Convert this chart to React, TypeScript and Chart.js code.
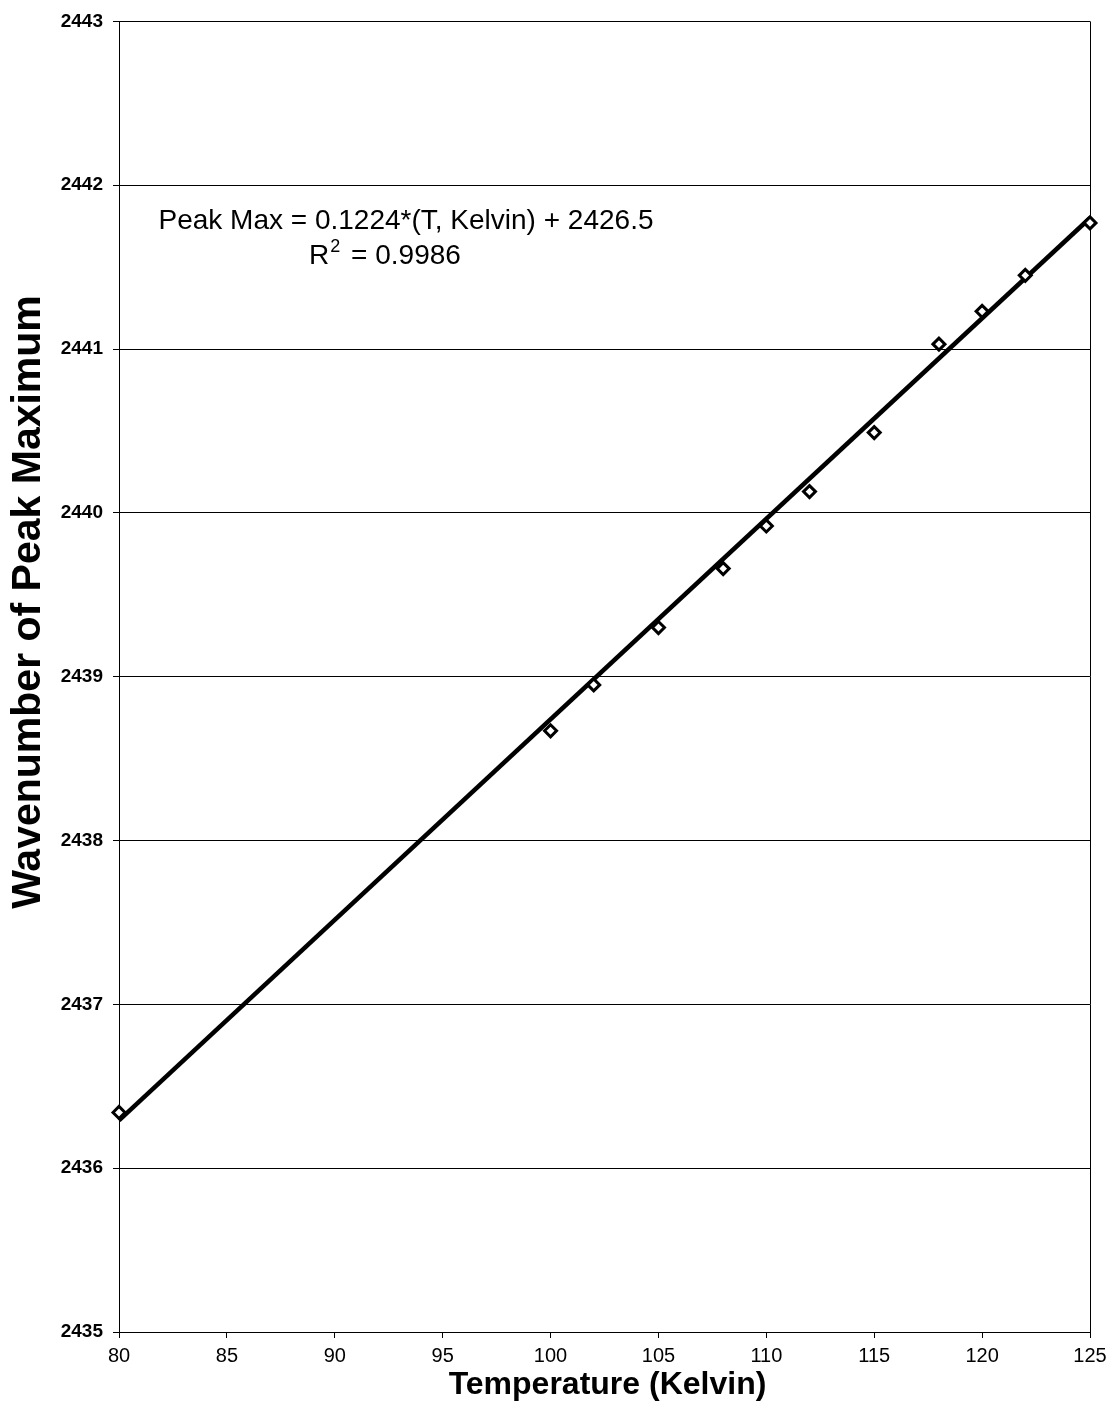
import React, { useEffect, useRef } from "react";
import { Chart, registerables } from "chart.js";

Chart.register(...registerables);

// Measured peak positions
const temperatures = [80, 100, 102, 105, 108, 110, 112, 115, 118, 120, 122, 125];
const peakMax = [2436.34, 2438.67, 2438.95, 2439.3, 2439.66, 2439.92, 2440.13, 2440.49, 2441.03, 2441.23, 2441.45, 2441.77];

// Linear fit: Peak Max = slope * T + intercept
const fitSlope = 0.1224;
const fitIntercept = 2426.5;
const fitRange = [80, 125];
const equationText = "Peak Max = 0.1224*(T, Kelvin) + 2426.5";
const rSquaredText = " = 0.9986";

const xTicks = [80, 85, 90, 95, 100, 105, 110, 115, 120, 125];
const yMin = 2435;
const yMax = 2443;
const xTitle = "Temperature (Kelvin)";
const yTitle = "Wavenumber of Peak Maximum";

const FONT = "Arial, 'Liberation Sans', sans-serif";

// Fit equation, R² and axis titles drawn on top of the chart
const annotationPlugin = {
  id: "annotationText",
  afterDraw(chart: any) {
    const { ctx, chartArea } = chart;
    ctx.save();
    ctx.fillStyle = "#000";

    // equation line
    ctx.textAlign = "center";
    ctx.textBaseline = "alphabetic";
    ctx.font = `28px ${FONT}`;
    ctx.fillText(equationText, chartArea.left + 287, chartArea.top + 208);

    // R² line with superscript
    const wR = ctx.measureText("R").width;
    const wRest = ctx.measureText(rSquaredText).width;
    ctx.font = `18px ${FONT}`;
    const wSup = ctx.measureText("2").width;
    const total = wR + wSup + wRest + 4;
    let x = chartArea.left + 266 - total / 2;
    const y = chartArea.top + 243;
    ctx.textAlign = "left";
    ctx.font = `28px ${FONT}`;
    ctx.fillText("R", x, y);
    x += wR + 1;
    ctx.font = `18px ${FONT}`;
    ctx.fillText("2", x, y - 12);
    x += wSup + 3;
    ctx.font = `28px ${FONT}`;
    ctx.fillText(rSquaredText, x, y);

    // x-axis title
    ctx.textAlign = "center";
    ctx.font = `bold 32px ${FONT}`;
    ctx.fillText(xTitle, (chartArea.left + chartArea.right) / 2 + 3, 1394);

    // y-axis title
    ctx.translate(40, 602);
    ctx.rotate(-Math.PI / 2);
    ctx.font = `bold 41px ${FONT}`;
    ctx.fillText(yTitle, 0, 0);
    ctx.restore();
  },
};

export default function App() {
  const canvasRef = useRef<HTMLCanvasElement | null>(null);

  useEffect(() => {
    if (!canvasRef.current) return;
    const points = temperatures.map((t, i) => ({ x: t, y: peakMax[i] }));
    const fit = fitRange.map((t) => ({ x: t, y: fitSlope * t + fitIntercept }));

    const chart = new Chart(canvasRef.current, {
      type: "scatter",
      data: {
        datasets: [
          {
            label: "Linear fit",
            data: fit,
            showLine: true,
            borderColor: "#000",
            borderWidth: 4.5,
            pointRadius: 0,
            fill: false,
            clip: false,
            order: 2,
          },
          {
            label: "Peak maximum",
            data: points,
            pointStyle: "rectRot",
            pointRadius: 6,
            pointBorderWidth: 3,
            borderColor: "#000",
            backgroundColor: "#fff",
            showLine: false,
            clip: false,
            order: 1,
          },
        ],
      },
      options: {
        animation: false,
        responsive: false,
        maintainAspectRatio: false,
        layout: { padding: { top: 20, right: 24, left: 0, bottom: 0 } },
        plugins: {
          legend: { display: false },
          tooltip: { enabled: false },
        },
        scales: {
          x: {
            type: "linear",
            min: 80,
            max: 125,
            afterBuildTicks: (scale: any) => {
              scale.ticks = xTicks.map((v) => ({ value: v }));
            },
            afterFit: (scale: any) => {
              scale.height = 1424 - 1332;
            },
            ticks: {
              color: "#000",
              font: { family: FONT, size: 20 },
              padding: 6,
              maxRotation: 0,
              callback: (v: any) => String(v),
            },
            grid: {
              color: (c: any) => (c.tick && c.tick.value === 125 ? "#000" : "rgba(0,0,0,0)"),
              lineWidth: 1,
              drawTicks: true,
              tickLength: 6,
              tickColor: "#000",
            },
            border: { display: true, color: "#000", width: 1 },
            title: { display: false },
          },
          y: {
            type: "linear",
            min: yMin,
            max: yMax,
            ticks: {
              stepSize: 1,
              color: "#000",
              font: { family: FONT, size: 19, weight: "bold" },
              padding: 10,
              callback: (v: any) => String(v),
            },
            afterFit: (scale: any) => {
              scale.width = 119;
            },
            grid: {
              color: "#000",
              lineWidth: 1,
              drawTicks: true,
              tickLength: 6,
              tickColor: "#000",
            },
            border: { display: true, color: "#000", width: 1 },
            title: { display: false },
          },
        },
      },
      plugins: [annotationPlugin],
    });
    return () => chart.destroy();
  }, []);

  return (
    <div style={{ position: "absolute", left: 0, top: 0, width: 1114, height: 1424, background: "#fff" }}>
      <canvas ref={canvasRef} width={1114} height={1424} style={{ width: 1114, height: 1424 }} />
    </div>
  );
}
